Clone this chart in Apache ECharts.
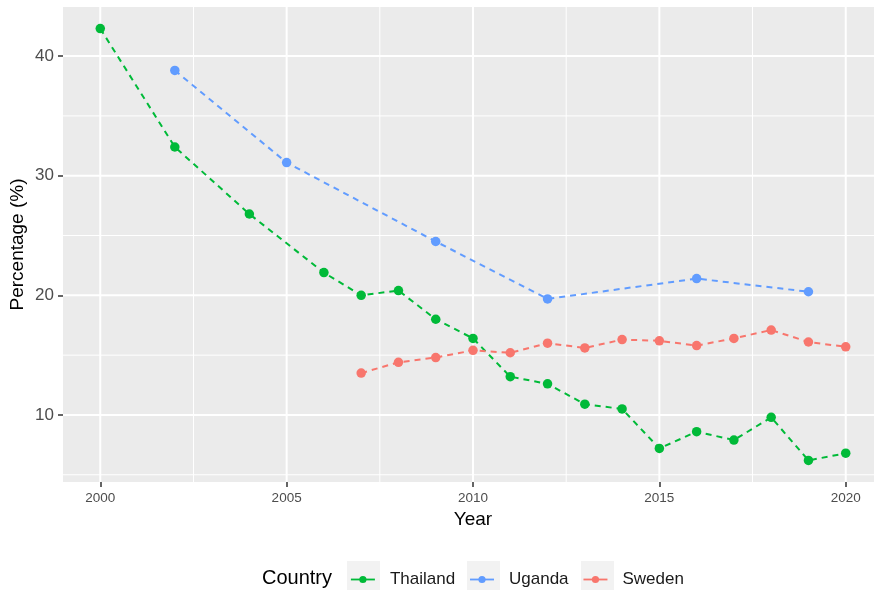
<!DOCTYPE html>
<html>
<head>
<meta charset="utf-8">
<script src="https://cdn.jsdelivr.net/npm/echarts@6/dist/echarts.min.js"></script>
<style>
html,body{margin:0;padding:0;background:#fff;}
#chart{width:874px;height:590px;}
</style>
</head>
<body>
<div id="chart"></div>
<script>
const thailandYears = [2000,2002,2004,2006,2007,2008,2009,2010,2011,2012,2013,2014,2015,2016,2017,2018,2019,2020];
const thailandValues = [42.3,32.4,26.8,21.9,20.0,20.4,18.0,16.4,13.2,12.6,10.9,10.5,7.2,8.6,7.9,9.8,6.2,6.8];
const ugandaYears = [2002,2005,2009,2012,2016,2019];
const ugandaValues = [38.8,31.1,24.5,19.7,21.4,20.3];
const swedenYears = [2007,2008,2009,2010,2011,2012,2013,2014,2015,2016,2017,2018,2019,2020];
const swedenValues = [13.5,14.4,14.8,15.4,15.2,16.0,15.6,16.3,16.2,15.8,16.4,17.1,16.1,15.7];
const xTicks = [2000,2005,2010,2015,2020];
const xMinor = [2002.5,2007.5,2012.5,2017.5];
const yTicks = [10,20,30,40];
const yMinor = [5,15,25,35];
const countryNames = ['Thailand','Uganda','Sweden'];

const colors = {Thailand:'#00BA38', Uganda:'#619CFF', Sweden:'#F8766D'};
const zip = (a,b) => a.map((v,i)=>[v,b[i]]);
const FONT = 'Liberation Sans, Arial, sans-serif';

const gridRows = [];
xTicks.forEach(v=>gridRows.push([0,v,1]));
xMinor.forEach(v=>gridRows.push([0,v,0]));
yTicks.forEach(v=>gridRows.push([1,v,1]));
yMinor.forEach(v=>gridRows.push([1,v,0]));

function lineSeries(name, xs, ys){
  return {
    name, type:'line', data: zip(xs, ys), z: 3,
    symbol:'circle', symbolSize: 9.5, showAllSymbol: true,
    itemStyle:{color: colors[name]},
    lineStyle:{color: colors[name], width: 2, type:[6,5]},
    emphasis:{disabled:true}
  };
}

const keyBoxes = [347, 467, 581].map(x => ({
  type:'rect', left:x, top:561, z:-1,
  shape:{width:33, height:33}, style:{fill:'#F2F2F2'}
}));

const chart = echarts.init(document.getElementById('chart'), null, {renderer:'canvas'});
chart.setOption({
  animation:false,
  color:[colors.Thailand, colors.Uganda, colors.Sweden],
  grid:{left:63, top:7, width:820, height:475, show:true, backgroundColor:'#EBEBEB', borderWidth:0, outerBoundsMode:'none', containLabel:false},
  xAxis:{
    type:'value', min:1999, max:2021,
    name:'Year', nameLocation:'middle', nameGap:27,
    nameTextStyle:{color:'#000', fontSize:19, fontFamily:FONT},
    axisLine:{show:false},
    axisTick:{show:true, customValues:xTicks, length:5, lineStyle:{color:'#333', width:1.5}},
    axisLabel:{customValues:xTicks, formatter:v=>String(v), color:'#4D4D4D', fontSize:13.5, margin:9, fontFamily:FONT},
    splitLine:{show:false}
  },
  yAxis:{
    type:'value', min:4.395, max:44.105,
    name:'Percentage (%)', nameLocation:'middle', nameGap:36, nameMoveOverlap:false,
    nameTextStyle:{color:'#000', fontSize:19, fontFamily:FONT},
    axisLine:{show:false},
    axisTick:{show:true, customValues:yTicks, length:5, lineStyle:{color:'#333', width:1.5}},
    axisLabel:{customValues:yTicks, formatter:v=>String(v), color:'#4D4D4D', fontSize:17, margin:9, fontFamily:FONT},
    splitLine:{show:false}
  },
  legend:{
    data: countryNames,
    left: 345, top: 566,
    itemWidth: 24, itemHeight: 9, itemGap: 14,
    lineStyle:{type:'solid', width:1.8},
    textStyle:{color:'#1a1a1a', fontSize:17, padding:[0,0,0,10], fontFamily:FONT}
  },
  graphic:[
    {type:'text', left:262, top:568, style:{text:'Country', fontSize:20, fill:'#000', fontFamily:FONT}}
  ].concat(keyBoxes),
  series:[
    {
      type:'custom', name:'grid', data: gridRows, z:1, silent:true,
      renderItem:(params, api) => {
        const cs = params.coordSys;
        const o = api.value(0), v = api.value(1), major = api.value(2);
        let shape;
        if (o === 0) {
          const x = api.coord([v, 10])[0];
          shape = {x1:x, y1:cs.y, x2:x, y2:cs.y+cs.height};
        } else {
          const y = api.coord([2000, v])[1];
          shape = {x1:cs.x, y1:y, x2:cs.x+cs.width, y2:y};
        }
        return {type:'line', shape, style:{stroke:'#FFFFFF', lineWidth: major ? 2 : 1}};
      }
    },
    lineSeries('Thailand', thailandYears, thailandValues),
    lineSeries('Uganda', ugandaYears, ugandaValues),
    lineSeries('Sweden', swedenYears, swedenValues)
  ]
});
</script>
</body>
</html>
